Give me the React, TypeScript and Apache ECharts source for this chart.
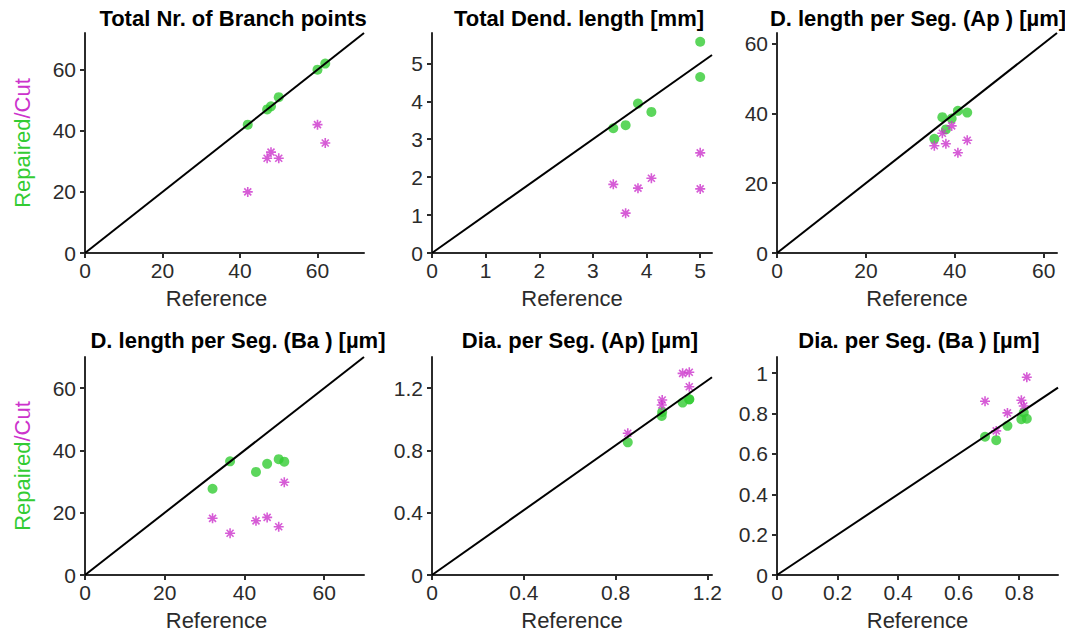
import React, { useEffect, useRef } from "react";
import * as echarts from "echarts";

// ---- Data ----
const titles = [
  "Total Nr. of Branch points",
  "Total Dend. length [mm]",
  "D. length per Seg. (Ap ) [µm]",
  "D. length per Seg. (Ba ) [µm]",
  "Dia. per Seg. (Ap) [µm]",
  "Dia. per Seg. (Ba ) [µm]",
];

const p1Ref = [42, 47, 48, 50, 60, 62];
const p1Rep = [42, 47, 48, 51, 60, 62];
const p1Cut = [20, 31, 33, 31, 42, 36];

const p2Ref = [3.38, 3.61, 3.84, 4.09, 5.0, 5.0];
const p2Rep = [3.29, 3.37, 3.94, 3.72, 5.57, 4.64];
const p2Cut = [1.81, 1.05, 1.71, 1.97, 2.64, 1.69];

const p3Ref = [35.4, 37.2, 38.0, 39.3, 40.7, 42.8];
const p3Rep = [32.7, 38.9, 35.4, 38.5, 40.7, 40.2];
const p3Cut = [30.7, 34.3, 31.3, 36.4, 28.7, 32.3];

const p4Ref = [32.0, 36.4, 42.9, 45.7, 48.6, 50.0];
const p4Rep = [27.7, 36.5, 33.1, 35.7, 37.2, 36.4];
const p4Cut = [18.2, 13.4, 17.4, 18.5, 15.5, 29.8];

const p5Ref = [0.853, 1.001, 1.003, 1.092, 1.121, 1.121];
const p5Rep = [0.852, 1.021, 1.047, 1.107, 1.128, 1.128];
const p5Cut = [0.91, 1.092, 1.124, 1.295, 1.302, 1.209];

const p6Ref = [0.687, 0.724, 0.761, 0.807, 0.815, 0.825];
const p6Rep = [0.685, 0.668, 0.739, 0.772, 0.805, 0.774];
const p6Cut = [0.861, 0.714, 0.803, 0.866, 0.837, 0.98];

const xTicks = [
  [0, 20, 40, 60],
  [0, 1, 2, 3, 4, 5],
  [0, 20, 40, 60],
  [0, 20, 40, 60],
  [0, 0.4, 0.8, 1.2],
  [0, 0.2, 0.4, 0.6, 0.8],
];
const yTicks = [
  [0, 20, 40, 60],
  [0, 1, 2, 3, 4, 5],
  [0, 20, 40, 60],
  [0, 20, 40, 60],
  [0, 0.4, 0.8, 1.2],
  [0, 0.2, 0.4, 0.6, 0.8, 1],
];
const xMaxes = [72, 5.22, 63, 70, 1.22, 0.928];
const yMaxes = [72, 5.8, 63, 70, 1.4, 1.08];
// end point of the reference diagonal as drawn in each panel
const diagEndX = [72, 5.22, 63, 70, 1.22, 0.928];
const diagEndY = [72, 5.22, 63, 70, 1.27, 0.928];

const refs = [p1Ref, p2Ref, p3Ref, p4Ref, p5Ref, p6Ref];
const reps = [p1Rep, p2Rep, p3Rep, p4Rep, p5Rep, p6Rep];
const cuts = [p1Cut, p2Cut, p3Cut, p4Cut, p5Cut, p6Cut];

// ---- Layout / style ----
const GREEN = "#33cc33";
const MAGENTA = "#cc33cc";
const AXIS = "#2b2b2b";
const FONT = "Liberation Sans, Arial, sans-serif";
const gridLefts = [85, 432, 777, 85, 432, 777];
const gridTops = [33, 33, 33, 357, 357, 357];
const gridHeights = [220, 220, 220, 218, 218, 218];
const gridWidths = [279, 280, 280, 279, 280, 281];
const titleCenters = [228, 574, 913, 233, 575, 914];
const titleTops = [2, 2, 2, 324, 324, 324];

const STAR = "path://M5,0L5,10M0,5L10,5M1.5,1.5L8.5,8.5M1.5,8.5L8.5,1.5";

export default function App() {
  const ref = useRef<HTMLDivElement>(null);
  useEffect(() => {
    if (!ref.current) return;
    const chart = echarts.init(ref.current, undefined, { renderer: "svg" });
    const idx = [0, 1, 2, 3, 4, 5];
    const fmt = (v: number) => String(Math.round(v * 1000) / 1000);
    const option: any = {
      animation: false,
      backgroundColor: "#ffffff",
      title: idx.map((i) => ({
        text: titles[i],
        left: titleCenters[i],
        top: titleTops[i],
        textAlign: "center",
        textStyle: { fontSize: 22, fontWeight: "bold", color: "#000", fontFamily: FONT },
      })),
      grid: idx.map((i) => ({
        left: gridLefts[i],
        top: gridTops[i],
        width: gridWidths[i],
        height: gridHeights[i],
        containLabel: false,
      })),
      xAxis: idx.map((i) => ({
        type: "value",
        gridIndex: i,
        min: 0,
        max: xMaxes[i],
        name: "Reference",
        nameLocation: "middle",
        nameGap: 34,
        nameTextStyle: {
          fontSize: 22,
          color: AXIS,
          fontFamily: FONT,
          padding: i === 0 || i === 3 ? [0, 16, 0, 0] : 0,
        },
        axisLine: { show: true, onZero: false, lineStyle: { color: AXIS, width: 2 } },
        axisTick: { show: true, length: 5, lineStyle: { color: AXIS, width: 2 }, customValues: xTicks[i] },
        axisLabel: { fontSize: 21, color: AXIS, fontFamily: FONT, margin: 7, customValues: xTicks[i], formatter: fmt },
        splitLine: { show: false },
      })),
      yAxis: idx.map((i) => ({
        type: "value",
        gridIndex: i,
        min: 0,
        max: yMaxes[i],
        name: i === 0 || i === 3 ? "{g|Repaired}{m|/Cut}" : "",
        nameLocation: "middle",
        nameGap: 52,
        nameTextStyle: {
          fontSize: 22,
          fontFamily: FONT,
          rich: {
            g: { color: GREEN, fontSize: 22, fontFamily: FONT },
            m: { color: MAGENTA, fontSize: 22, fontFamily: FONT },
          },
        },
        axisLine: { show: true, onZero: false, lineStyle: { color: AXIS, width: 2 } },
        axisTick: { show: true, length: 5, lineStyle: { color: AXIS, width: 2 }, customValues: yTicks[i] },
        axisLabel: { fontSize: 21, color: AXIS, fontFamily: FONT, margin: 9, customValues: yTicks[i], formatter: fmt },
        splitLine: { show: false },
      })),
      series: idx.flatMap((i) => [
        {
          type: "scatter",
          xAxisIndex: i,
          yAxisIndex: i,
          symbol: "circle",
          symbolSize: 10,
          itemStyle: { color: GREEN },
          data: refs[i].map((x, k) => [x, reps[i][k]]),
        },
        {
          type: "scatter",
          xAxisIndex: i,
          yAxisIndex: i,
          symbol: STAR,
          symbolSize: 10,
          itemStyle: { color: "rgba(0,0,0,0)", borderColor: MAGENTA, borderWidth: 1.6 },
          data: refs[i].map((x, k) => [x, cuts[i][k]]),
        },
        {
          type: "line",
          xAxisIndex: i,
          yAxisIndex: i,
          symbol: "none",
          lineStyle: { color: "#000", width: 2 },
          data: [
            [0, 0],
            [diagEndX[i], diagEndY[i]],
          ],
        },
      ]),
    };
    chart.setOption(option);
    return () => chart.dispose();
  }, []);
  return (
    <div
      ref={ref}
      style={{ position: "fixed", left: 0, top: 0, width: 1065, height: 634, background: "#fff" }}
    />
  );
}
